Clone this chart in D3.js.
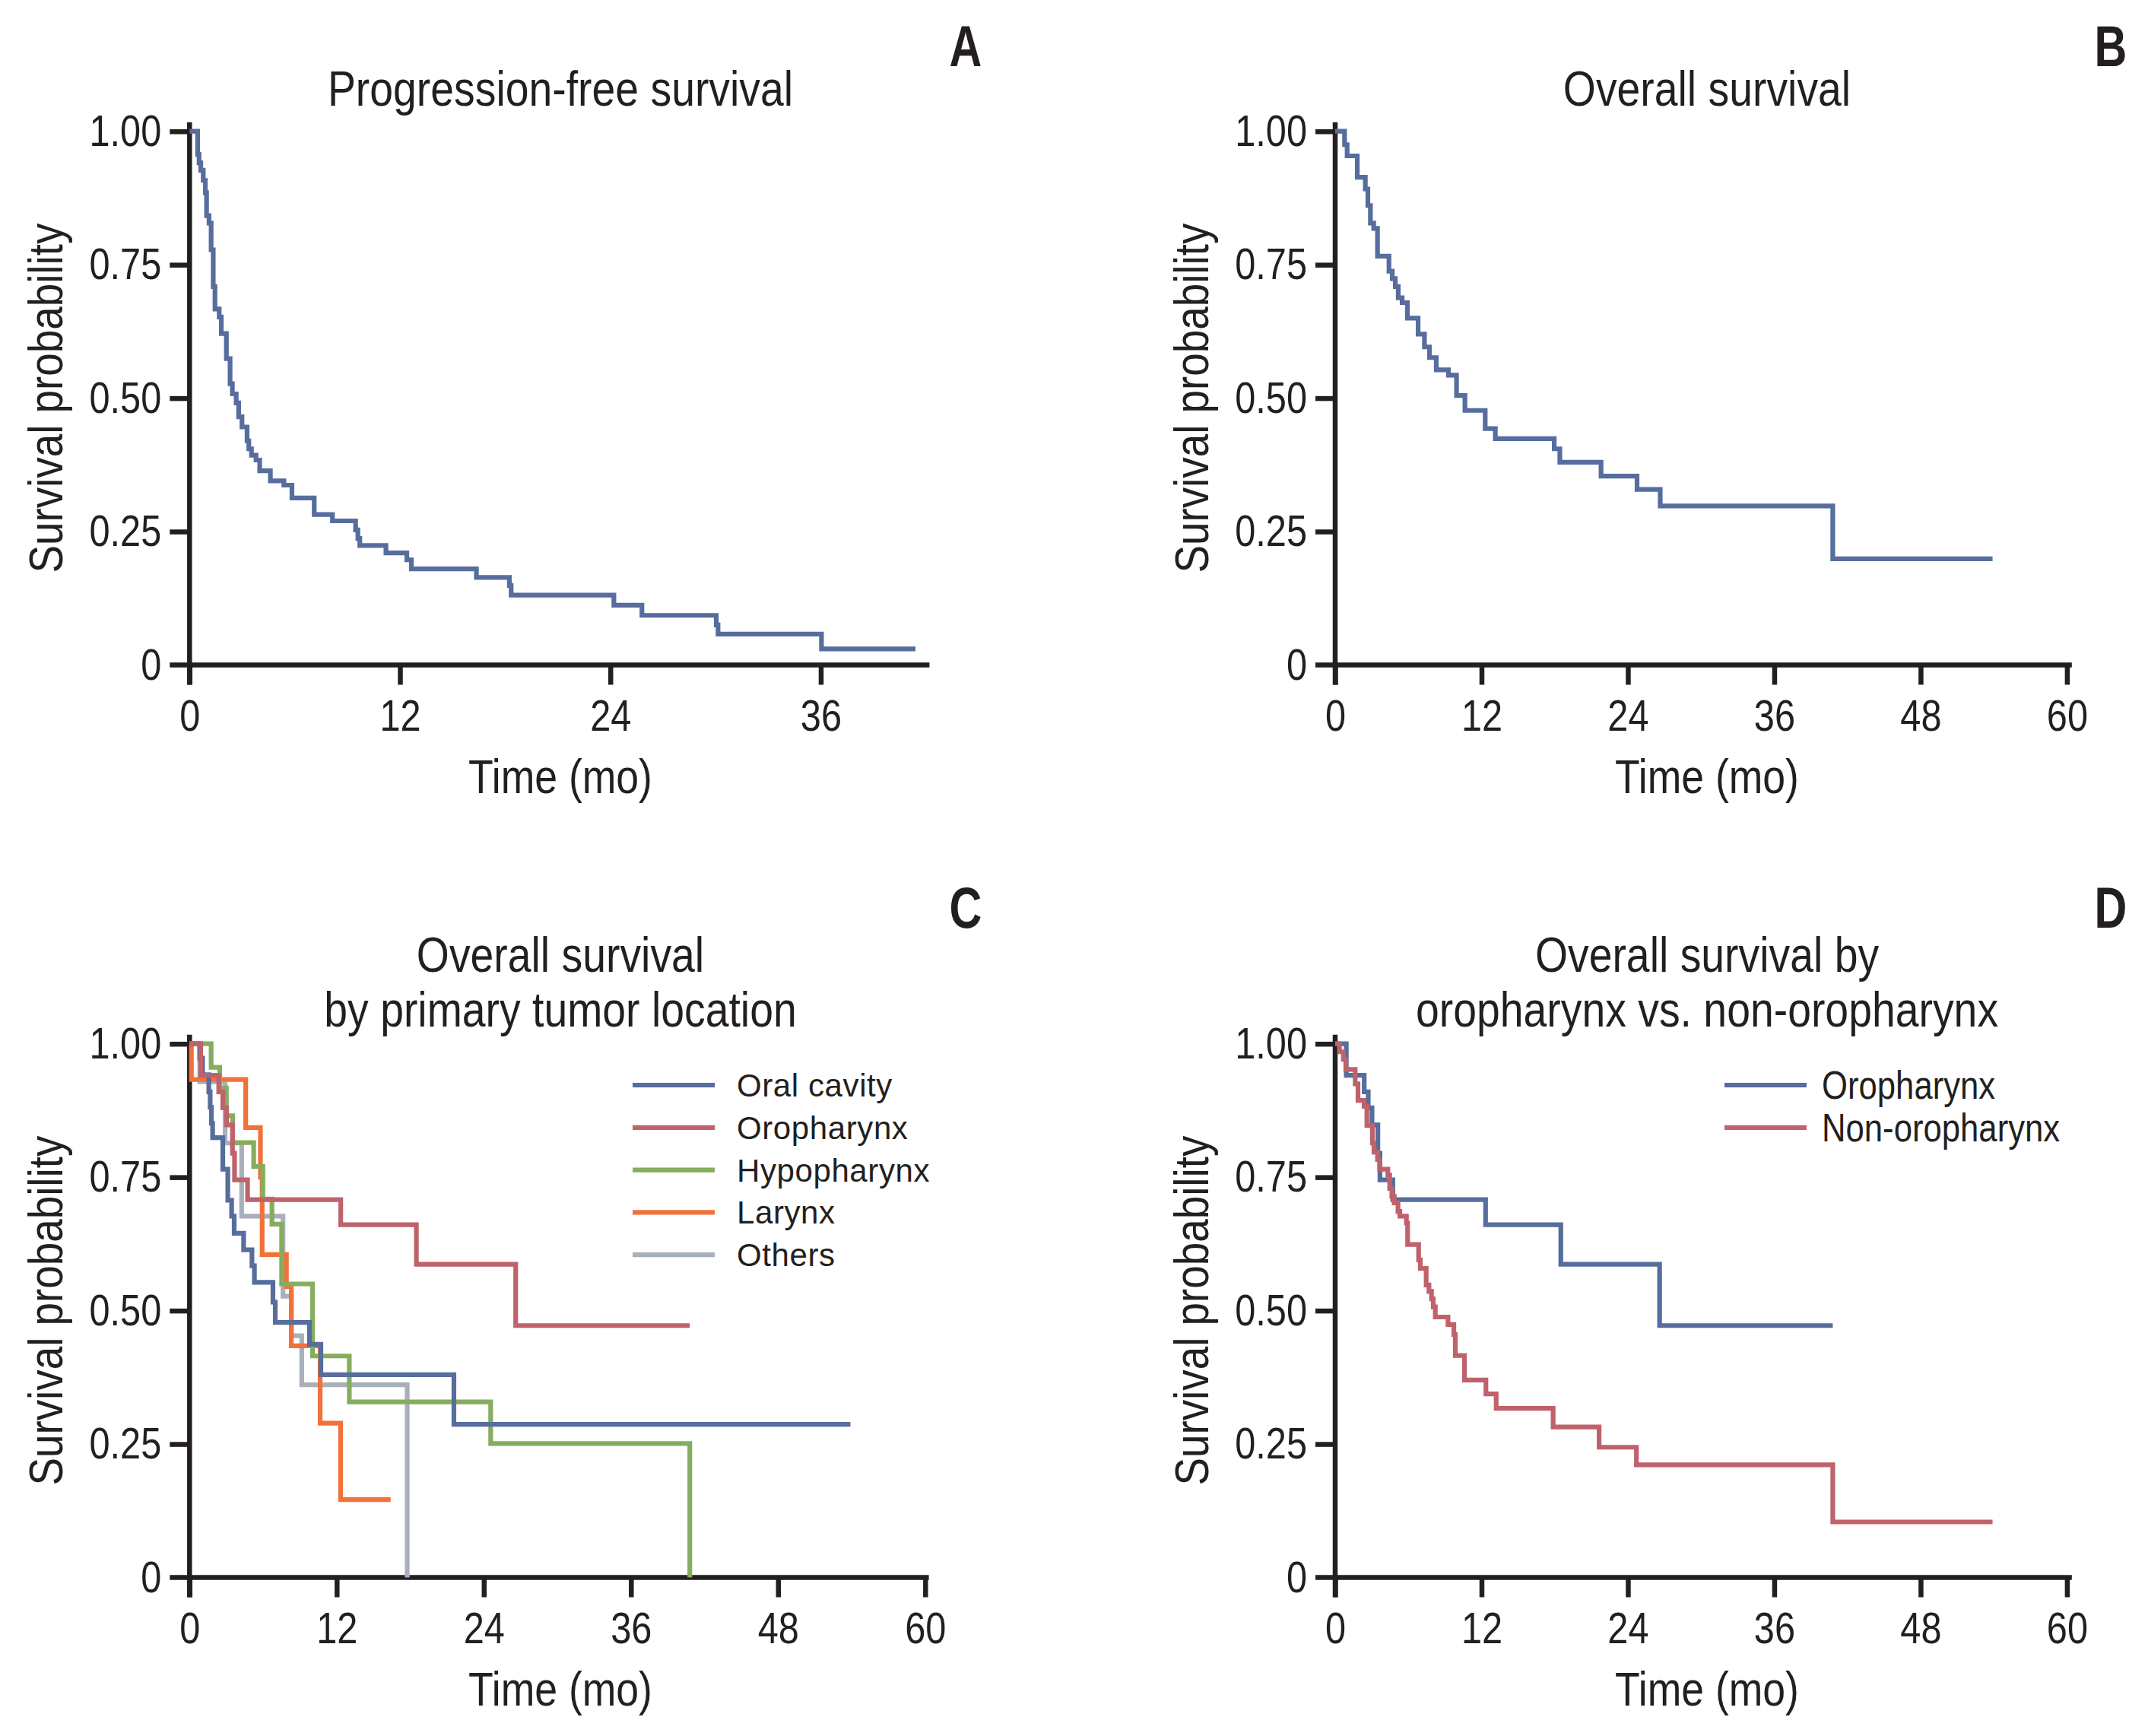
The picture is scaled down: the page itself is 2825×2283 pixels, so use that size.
<!DOCTYPE html>
<html><head><meta charset="utf-8">
<script src="https://cdn.jsdelivr.net/npm/d3@7"></script>
<style>
html,body{margin:0;padding:0;background:#fff;}
svg text{font-family:"Liberation Sans",Arial,Helvetica,sans-serif;fill:#231f20;}
</style></head><body>
<svg id="chart" width="2825" height="2283"></svg>
<script>
// ---------------- data ----------------
const yTicks = [0, 0.25, 0.5, 0.75, 1];
const yTickLabels = ["0", "0.25", "0.50", "0.75", "1.00"];
const xTicksA = [0, 12, 24, 36];
const xTicksFull = [0, 12, 24, 36, 48, 60];

const titleA = ["Progression-free survival"];
const titleB = ["Overall survival"];
const titleC = ["Overall survival", "by primary tumor location"];
const titleD = ["Overall survival by", "oropharynx vs. non-oropharynx"];
const panelLetters = ["A", "B", "C", "D"];
const xLabel = "Time (mo)";
const yLabel = "Survival probability";

// A: progression-free survival (time in months, survival after each step)
const pfsTime = [0.46, 0.54, 0.64, 0.78, 0.90, 0.97, 1.11, 1.23, 1.35, 1.45, 1.69, 1.81, 2.10, 2.31, 2.44, 2.66, 2.80, 2.99, 3.28, 3.38, 3.53, 3.79, 4.00, 4.61, 5.38, 5.84, 7.11, 8.15, 9.47, 9.60, 9.71, 11.20, 12.39, 12.65, 16.36, 18.24, 18.34, 24.20, 25.80, 30.04, 30.14, 36.04];
const pfsSurv = [0.957, 0.941, 0.927, 0.908, 0.885, 0.842, 0.828, 0.778, 0.709, 0.667, 0.652, 0.621, 0.574, 0.527, 0.508, 0.491, 0.465, 0.446, 0.420, 0.405, 0.393, 0.384, 0.364, 0.345, 0.337, 0.313, 0.282, 0.270, 0.253, 0.237, 0.224, 0.210, 0.197, 0.180, 0.164, 0.149, 0.131, 0.112, 0.093, 0.075, 0.058, 0.030];
const pfsEnd = 41.4;

// B: overall survival
const osTime = [0.77, 0.98, 1.81, 2.47, 2.68, 2.89, 3.16, 3.47, 4.41, 4.68, 4.93, 5.17, 5.49, 5.92, 6.80, 7.32, 7.73, 8.29, 9.29, 9.95, 10.64, 12.30, 13.13, 17.96, 18.42, 21.80, 24.75, 26.65, 40.80];
const osSurv = [0.975, 0.954, 0.914, 0.892, 0.861, 0.828, 0.818, 0.766, 0.738, 0.724, 0.709, 0.688, 0.679, 0.650, 0.620, 0.596, 0.576, 0.553, 0.543, 0.505, 0.477, 0.443, 0.424, 0.405, 0.380, 0.354, 0.329, 0.298, 0.199];
const osEnd = 53.9;

// C: by primary tumor location
const oralTime = [0.83, 1.06, 1.57, 1.68, 1.78, 1.88, 2.71, 3.12, 3.43, 3.64, 4.41, 5.09, 5.29, 6.80, 6.99, 9.78, 10.71, 21.56];
const oralSurv = [0.973, 0.942, 0.910, 0.881, 0.851, 0.824, 0.765, 0.707, 0.677, 0.645, 0.614, 0.584, 0.553, 0.516, 0.478, 0.437, 0.380, 0.287];
const oralEnd = 53.9;

const oroTime = [0.91, 2.38, 2.71, 3.02, 3.50, 3.67, 4.73, 12.33, 18.50, 26.60];
const oroSurv = [0.941, 0.910, 0.880, 0.848, 0.795, 0.745, 0.708, 0.661, 0.587, 0.472];
const oroEnd = 40.8;

const hypoTime = [1.76, 2.46, 3.00, 3.52, 5.23, 5.98, 6.72, 7.51, 10.03, 13.03, 24.56, 40.80];
const hypoSurv = [0.956, 0.917, 0.865, 0.815, 0.770, 0.709, 0.662, 0.550, 0.415, 0.329, 0.251, 0];
const hypoEnd = 40.8;

const larynxTime = [0.15, 4.58, 5.78, 5.92, 7.90, 8.30, 10.65, 12.32];
const larynxSurv = [0.933, 0.843, 0.750, 0.605, 0.545, 0.434, 0.289, 0.146];
const larynxEnd = 16.4;

const othersTime = [0.83, 2.90, 4.25, 7.62, 8.30, 9.15, 17.75];
const othersSurv = [0.929, 0.814, 0.677, 0.527, 0.453, 0.361, 0];
const othersEnd = 17.75;

// D: oropharynx vs non-oropharynx
const nonOroTime = [0.35, 0.67, 0.87, 1.64, 1.87, 2.37, 2.60, 3.05, 3.18, 3.47, 3.64, 4.32, 4.47, 4.65, 4.84, 5.15, 5.30, 5.84, 5.94, 6.84, 6.98, 7.46, 7.69, 7.90, 8.04, 8.21, 9.25, 9.73, 9.85, 10.60, 12.36, 13.20, 17.87, 21.64, 24.70, 40.80];
const nonOroSurv = [0.985, 0.971, 0.952, 0.925, 0.894, 0.883, 0.847, 0.814, 0.797, 0.783, 0.765, 0.754, 0.729, 0.714, 0.702, 0.686, 0.677, 0.664, 0.624, 0.595, 0.579, 0.548, 0.536, 0.522, 0.507, 0.488, 0.474, 0.455, 0.416, 0.370, 0.344, 0.317, 0.282, 0.244, 0.211, 0.104];
const nonOroEnd = 53.9;

const groupNamesC = ["Oral cavity", "Oropharynx", "Hypopharynx", "Larynx", "Others"];
const groupNamesD = ["Oropharynx", "Non-oropharynx"];

// ---------------- styling ----------------
const INK = "#231f20";
const BLUE = "#566d9d", RED = "#bf626b", GREEN = "#86ad5f", ORANGE = "#f2713a", GREY = "#a9b0bb";
const CURVE_W = 6.2, AXIS_W = 6.5, TICK = 26;
const NARROW = 0.84;   // horizontal compression to mimic a condensed face

const svg = d3.select("#chart");
svg.append("rect").attr("width", 2825).attr("height", 2283).attr("fill", "#fff");

// condensed text helper
function ctext(g, x, y, str, size, opts = {}) {
  const k = opts.k || NARROW;
  const rot = opts.rotate ? ` rotate(${opts.rotate})` : "";
  return g.append("text")
    .attr("transform", `translate(${x},${y})${rot} scale(${k},1)`)
    .attr("text-anchor", opts.anchor || "middle")
    .style("font-size", size + "px")
    .style("font-weight", opts.bold ? "bold" : null)
    .text(str);
}

function series(time, surv, end) {
  const pts = [[0, 1]];
  time.forEach((t, i) => pts.push([t, surv[i]]));
  pts.push([end, surv[surv.length - 1]]);
  return pts;
}

function panel(cfg) {
  const g = svg.append("g");
  const x = d3.scaleLinear().domain([0, cfg.xmax]).range([cfg.x0, cfg.x0 + cfg.xmax * cfg.month]);
  const y = d3.scaleLinear().domain([0, 1]).range([cfg.y0, cfg.y0 - 701.8]);

  // y axis
  const gy = g.append("g").attr("transform", `translate(${cfg.x0},0)`)
    .call(d3.axisLeft(y).tickValues(yTicks).tickFormat((d, i) => yTickLabels[i]).tickSize(TICK).tickPadding(11).tickSizeOuter(0));
  gy.select(".domain").remove();
  gy.attr("font-size", null).attr("font-family", null);
  gy.selectAll(".tick line").attr("stroke", INK).attr("stroke-width", AXIS_W);
  gy.selectAll(".tick text").each(function () {
    const t = d3.select(this);
    const xx = +t.attr("x");
    t.attr("x", 0).attr("transform", `translate(${xx},0) scale(${NARROW},1)`);
  }).style("font-size", "58px");
  gy.selectAll(".tick").filter(d => d === 0).select("line").remove();

  // x axis
  const gx = g.append("g").attr("transform", `translate(0,${cfg.y0})`)
    .call(d3.axisBottom(x).tickValues(cfg.ticks).tickSize(TICK).tickPadding(19).tickSizeOuter(0));
  gx.select(".domain").remove();
  gx.attr("font-size", null).attr("font-family", null);
  gx.selectAll(".tick line").attr("stroke", INK).attr("stroke-width", AXIS_W);
  gx.selectAll(".tick text").attr("transform", `scale(${NARROW},1)`).style("font-size", "58px");

  // axis lines
  g.append("line").attr("x1", cfg.x0).attr("x2", cfg.x0).attr("y1", y(1.017)).attr("y2", cfg.y0 + TICK)
    .attr("stroke", INK).attr("stroke-width", AXIS_W);
  g.append("line").attr("x1", cfg.x0 - TICK).attr("x2", x(cfg.xmax)).attr("y1", cfg.y0).attr("y2", cfg.y0)
    .attr("stroke", INK).attr("stroke-width", AXIS_W);

  // axis titles
  ctext(g, cfg.cx, cfg.y0 + 168, xLabel, 63, { k: 0.85 });
  ctext(g, cfg.x0 - 167, y(0.5), yLabel, 63, { k: 0.87, rotate: -90 });

  // title
  cfg.title.forEach((t, i) => ctext(g, cfg.cx, cfg.titleY + i * 72, t, 64, { k: 0.865 }));
  // panel letter
  ctext(g, cfg.letterX, cfg.letterY, cfg.letter, 76, { k: 0.78, bold: true });

  // curves
  const line = d3.line().curve(d3.curveStepAfter).x(d => x(d[0])).y(d => y(d[1]));
  cfg.curves.forEach(c => {
    g.append("path").attr("d", line(c.pts)).attr("fill", "none").attr("stroke", c.color)
      .attr("stroke-width", CURVE_W).attr("stroke-linejoin", "miter").attr("stroke-linecap", "butt");
  });

  // legend
  if (cfg.legend) {
    const L = cfg.legend;
    L.items.forEach((it, i) => {
      const yy = L.y + i * L.dy;
      g.append("line").attr("x1", L.x).attr("x2", L.x + 108).attr("y1", yy).attr("y2", yy)
        .attr("stroke", it.color).attr("stroke-width", CURVE_W);
      ctext(g, L.x + L.textDx, yy + L.base, it.name, L.size, { k: L.k, anchor: "start" })
        .style("letter-spacing", L.spacing || null);
    });
  }
}

const yTop = 874.5, yBot = 2074.5;

panel({ letter: panelLetters[0], x0: 249.3, y0: yTop, month: 23.06, xmax: 42.2, ticks: xTicksA,
  cx: 737, title: titleA, titleY: 139, letterX: 1270, letterY: 87,
  curves: [{ pts: series(pfsTime, pfsSurv, pfsEnd), color: BLUE }] });

panel({ letter: panelLetters[1], x0: 1756, y0: yTop, month: 16.04, xmax: 60.4, ticks: xTicksFull,
  cx: 2245, title: titleB, titleY: 139, letterX: 2776, letterY: 87,
  curves: [{ pts: series(osTime, osSurv, osEnd), color: BLUE }] });

panel({ letter: panelLetters[2], x0: 249.3, y0: yBot, month: 16.125, xmax: 60.3, ticks: xTicksFull,
  cx: 737, title: titleC, titleY: 1278, letterX: 1270, letterY: 1220,
  curves: [
    { pts: series(othersTime, othersSurv, othersEnd), color: GREY },
    { pts: series(larynxTime, larynxSurv, larynxEnd), color: ORANGE },
    { pts: series(hypoTime, hypoSurv, hypoEnd), color: GREEN },
    { pts: series(oralTime, oralSurv, oralEnd), color: BLUE },
    { pts: series(oroTime, oroSurv, oroEnd), color: RED }
  ],
  legend: { x: 832, y: 1427, dy: 55.8, base: 15, size: 42, k: 1, textDx: 137, spacing: "0.6px",
    items: groupNamesC.map((n, i) => ({ name: n, color: [BLUE, RED, GREEN, ORANGE, GREY][i] })) } });

panel({ letter: panelLetters[3], x0: 1756, y0: yBot, month: 16.04, xmax: 60.4, ticks: xTicksFull,
  cx: 2245, title: titleD, titleY: 1278, letterX: 2776, letterY: 1220,
  curves: [
    { pts: series(oroTime, oroSurv, oroEnd), color: BLUE },
    { pts: series(nonOroTime, nonOroSurv, nonOroEnd), color: RED }
  ],
  legend: { x: 2268, y: 1427, dy: 55.8, base: 18, size: 52, k: 0.84, textDx: 128,
    items: groupNamesD.map((n, i) => ({ name: n, color: [BLUE, RED][i] })) } });
</script>
</body></html>
